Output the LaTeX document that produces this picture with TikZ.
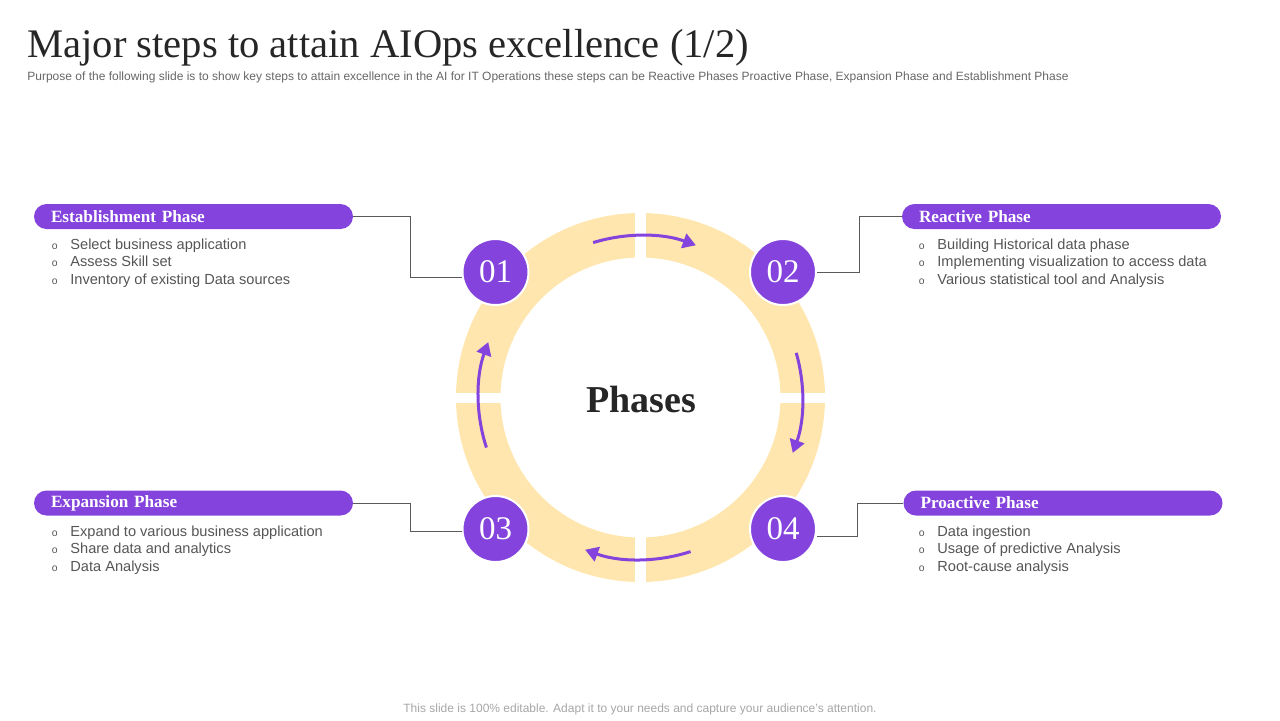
\documentclass[tikz,border=0pt]{standalone}
\usepackage{fontspec}
\setmainfont{Liberation Serif}
\setsansfont{Liberation Sans}
\usetikzlibrary{arrows.meta,calc}
\definecolor{purp}{HTML}{8343DC}
\definecolor{ringc}{HTML}{FFE6AE}
\definecolor{txtg}{HTML}{555555}
\definecolor{lineg}{HTML}{5A5A5A}
\definecolor{titlec}{HTML}{262626}
\newcommand\bul{\makebox[9.25pt][l]{\fontsize{5.2}{5.5}\selectfont o}}
\newcommand\blist[3]{\begin{tabular}[t]{@{}l@{}}\bul #1\\ \bul #2\\ \bul #3\end{tabular}}
\begin{document}
\begin{tikzpicture}[x=0.5pt,y=-0.5pt,
  bar/.style={fill=purp, rounded corners=6.25pt, minimum width=159.5pt, minimum height=12.5pt,
    text width=142.5pt, inner xsep=8.5pt, inner ysep=0pt, align=left, text=white,
    font=\bfseries\fontsize{8.6}{9}\selectfont},
  num/.style={circle, fill=purp, draw=white, line width=1pt, minimum size=33pt, inner sep=0pt,
    text=white, font=\fontsize{16.5}{17}\selectfont},
  lst/.style={anchor=base west, inner sep=0pt, text=txtg, font=\sffamily\fontsize{7.3}{8.75}\selectfont},
  conn/.style={draw=lineg, line width=0.5pt},
  arr/.style={draw=purp, line width=1.5pt, -{Triangle[length=6.5pt,width=7.5pt]}}
]
\useasboundingbox (0,0) rectangle (1280,720);
% titles
\node[anchor=base west, inner sep=0pt, text=titlec, font=\fontsize{20.3}{22}\selectfont] (title) at (27,57) {Major steps to attain AIOps excellence (1/2)};
\node[anchor=base west, inner sep=0pt, text=txtg!90, font=\sffamily\fontsize{6}{6.5}\selectfont] (sub) at (27,80) {Purpose of the following slide is to show key steps to attain excellence in the AI for IT Operations these steps can be Reactive Phases Proactive Phase, Expansion Phase and Establishment Phase};
\node[anchor=base, inner sep=0pt, text=black!35, font=\sffamily\fontsize{6}{6.5}\selectfont] (foot) at (640,712) {This slide is 100\% editable. Adapt it to your needs and capture your audience's attention.};
% ring
\coordinate (C) at (640.5,397.5);
\fill[ringc, even odd rule] (C) circle[radius=184.5] (C) circle[radius=140];
\fill[white] (635,205) rectangle (646,590);
\fill[white] (450,393) rectangle (831,403);
\node[text=titlec, font=\bfseries\fontsize{19}{20}\selectfont, inner sep=0pt] (ph) at (641.5,399) {Phases};
% arrows
\draw[arr] ($(C)+(-107:162)$) arc[start angle=-107, end angle=-70, radius=162];
\draw[arr] ($(C)+(-16:162)$) arc[start angle=-16, end angle=20, radius=162];
\draw[arr] ($(C)+(72:162)$) arc[start angle=72, end angle=110, radius=162];
\draw[arr] ($(C)+(162:162)$) arc[start angle=162, end angle=200, radius=162];
% number circles
\node[num] (c1) at (495.5,272) {01};
\node[num] (c2) at (783,272) {02};
\node[num] (c3) at (495.5,529) {03};
\node[num] (c4) at (783,529) {04};
% bars
\node[bar] (b1) at (193.5,216.5) {Establishment Phase};
\node[bar] (b2) at (1061.5,216.5) {Reactive Phase};
\node[bar] (b3) at (193.5,503) {Expansion Phase};
\node[bar] (b4) at (1063,503) {Proactive Phase};
% connectors
\draw[conn] (b1.east) -- ++(57,0) |- ([yshift=-2.5pt]c1.west);
\draw[conn] (b2.west) -- ++(-42,0) |- (c2.east);
\draw[conn] (b3.east) -- ++(57,0) |- ([yshift=-1pt]c3.west);
\draw[conn] (b4.west) -- ++(-46,0) |- ([yshift=-3.5pt]c4.east);
% lists
\node[lst] (l1) at (51.5,249) {\blist{Select business application}{Assess Skill set}{Inventory of existing Data sources}};
\node[lst] (l2) at (918.5,249) {\blist{Building Historical data phase}{Implementing visualization to access data}{Various statistical tool and Analysis}};
\node[lst] (l3) at (51.5,536) {\blist{Expand to various business application}{Share data and analytics}{Data Analysis}};
\node[lst] (l4) at (918.5,536) {\blist{Data ingestion}{Usage of predictive Analysis}{Root-cause analysis}};
\end{tikzpicture}
\end{document}
